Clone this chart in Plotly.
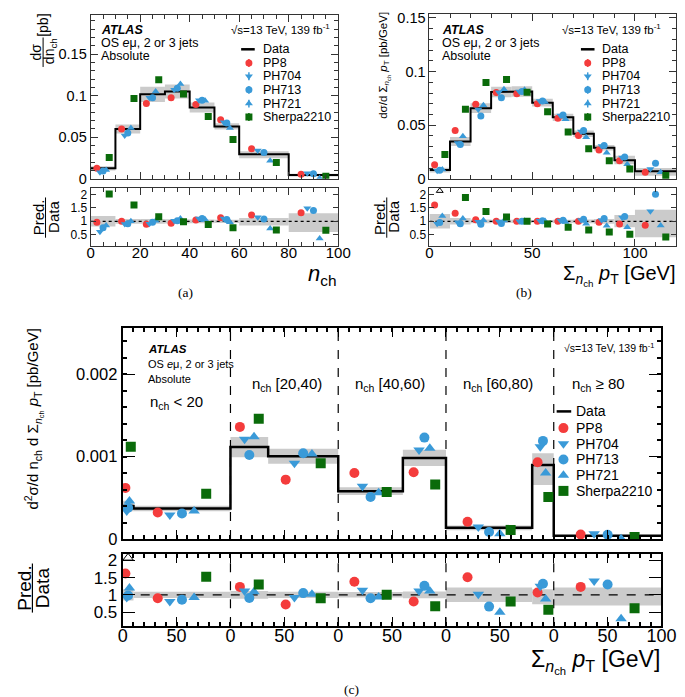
import plotly.graph_objects as go

W, H = 685, 697

# ---------------- panel (a): n_ch ----------------
a_edges = [0, 10, 20, 30, 40, 50, 60, 80, 100]
a_data = [0.0126, 0.0600, 0.1016, 0.1050, 0.0858, 0.0630, 0.0295, 0.0047]
a_unc_up = [0.20, 0.09, 0.09, 0.08, 0.07, 0.06, 0.12, 0.30]
a_unc_dn = [0.20, 0.09, 0.09, 0.08, 0.07, 0.06, 0.16, 0.40]
a_pp8 = [0.0126, 0.0598, 0.0906, 0.0976, 0.0894, 0.0709, 0.0362, 0.0055]
a_ph704 = [0.0080, 0.0520, 0.0976, 0.1070, 0.0945, 0.0680, 0.0340, 0.0067]
a_ph713 = [0.0094, 0.0550, 0.0976, 0.1090, 0.0945, 0.0670, 0.0315, 0.0060]
a_ph721 = [0.0106, 0.0610, 0.1050, 0.1140, 0.0940, 0.0610, 0.0217, 0.0008]
a_sherpa = [0.0256, 0.0965, 0.1190, 0.1020, 0.0748, 0.0472, 0.0197, 0.0030]
a_r_pp8 = [0.96, 1.00, 0.89, 0.93, 1.05, 1.13, 1.24, 1.32]
a_r_ph704 = [0.61, 0.90, 0.91, 1.02, 1.10, 1.10, 1.15, 1.49]
a_r_ph713 = [0.76, 0.91, 0.96, 1.02, 1.10, 1.07, 1.09, 1.40]
a_r_ph721 = [0.84, 1.00, 1.02, 1.10, 1.07, 0.96, 0.73, 0.35]
a_r_sherpa = [2.02, 1.61, 1.17, 0.98, 0.88, 0.76, 0.67, 0.66]

# ---------------- panel (b): sum pT ----------------
b_edges = [0, 10, 20, 30, 40, 50, 60, 70, 80, 90, 100, 120]
b_data = [0.0082, 0.0348, 0.0659, 0.0810, 0.0814, 0.0710, 0.0573, 0.0420, 0.0290, 0.0174, 0.0070]
b_unc_up = [0.27, 0.12, 0.07, 0.06, 0.06, 0.05, 0.06, 0.07, 0.09, 0.24, 0.43]
b_unc_dn = [0.27, 0.12, 0.07, 0.06, 0.06, 0.05, 0.06, 0.07, 0.09, 0.22, 0.60]
b_pp8 = [0.0131, 0.0451, 0.0695, 0.0805, 0.0793, 0.0701, 0.0564, 0.0405, 0.0268, 0.0168, 0.0061]
b_ph704 = [0.0076, 0.0335, 0.0646, 0.0808, 0.0814, 0.0726, 0.0590, 0.0442, 0.0305, 0.0198, 0.0091]
b_ph713 = [0.0079, 0.0320, 0.0585, 0.0756, 0.0814, 0.0726, 0.0595, 0.0451, 0.0310, 0.0204, 0.0146]
b_ph721 = [0.0088, 0.0396, 0.0686, 0.0835, 0.0830, 0.0716, 0.0555, 0.0387, 0.0244, 0.0137, 0.0061]
b_sherpa = [0.0226, 0.0649, 0.0899, 0.0927, 0.0808, 0.0625, 0.0436, 0.0280, 0.0168, 0.0091, 0.0030]
b_r_pp8 = [1.61, 1.30, 1.06, 1.00, 1.00, 1.00, 1.00, 1.00, 0.96, 0.90, 0.85]
b_r_ph704 = [0.91, 0.96, 0.98, 0.99, 1.00, 1.02, 1.03, 1.05, 1.05, 1.14, 1.38]
b_r_ph713 = [0.95, 0.91, 0.89, 0.92, 1.00, 1.02, 1.04, 1.08, 1.10, 1.18, 2.01]
b_r_ph721 = [1.20, 1.10, 1.04, 1.03, 1.02, 1.01, 0.97, 0.91, 0.83, 0.78, 0.84]
b_r_sherpa = [None, 1.89, 1.37, 1.16, 1.00, 0.90, 0.78, 0.67, 0.60, 0.51, 0.41]

# ---------------- panel (c): n_ch x sum pT (5 n_ch slices of 0-100 GeV) ----------------
c_slice_labels = ["n<sub>ch</sub> &lt; 20", "n<sub>ch</sub> [20,40)", "n<sub>ch</sub> [40,60)",
                  "n<sub>ch</sub> [60,80)", "n<sub>ch</sub> ≥ 80"]
c_slice_width = 100
c_edges = [0, 10, 100, 135, 200, 260, 300, 380, 400, 500]
c_data = [0.00040, 0.00037, 0.001115, 0.001004, 0.00058, 0.000984, 0.000135, 0.000897, 0.00004]
c_unc_up = [0.16, 0.09, 0.11, 0.09, 0.08, 0.10, 0.21, 0.16, 0.21]
c_unc_dn = [0.16, 0.09, 0.11, 0.09, 0.08, 0.10, 0.21, 0.27, 0.31]
c_pp8 = [0.00062, 0.000321, 0.00136, 0.00072, 0.00080, 0.00081, 0.00021, 0.00093, 0.000054]
c_ph704 = [0.00034, 0.00029, 0.00121, 0.00092, 0.00064, 0.00108, 0.000145, 0.00112, 0.000063]
c_ph713 = [0.00038, 0.00031, 0.00102, 0.00104, 0.00051, 0.00123, 0.000085, 0.00119, 0.000051]
c_ph721 = [0.00046, 0.00034, 0.00124, 0.00103, 0.00056, 0.00110, 0.000063, 0.00080, 0.000004]
c_sherpa = [0.00112, 0.00055, 0.00146, 0.00092, 0.00057, 0.00066, 0.00011, 0.00051, 0.000024]
c_r_pp8 = [1.62, 0.90, 1.23, 0.72, 1.38, 0.81, 1.51, 1.07, 1.23]
c_r_ph704 = [0.92, 0.81, 1.11, 0.92, 1.13, 1.11, 1.02, 1.25, 1.40]
c_r_ph713 = [0.98, 0.86, 0.91, 1.05, 0.90, 1.26, 0.66, 1.32, 1.30]
c_r_ph721 = [1.20, 0.92, 1.09, 1.02, 0.94, 1.11, 0.50, 0.88, 0.31]
c_r_sherpa = [None, 1.52, 1.30, 0.90, 1.00, 0.67, 0.81, 0.57, 0.61]
c_tick_vals = [0, 50, 100, 150, 200, 250, 300, 350, 400, 450, 500]
c_tick_text = ["0", "50", "0", "50", "0", "50", "0", "50", "0", "50", "100"]

# ---------------- styles ----------------
FONT = "Liberation Sans"
SERIF = "Liberation Serif"
BAND = "#cbcbcb"
NAMES = ["PP8", "PH704", "PH713", "PH721", "Sherpa2210"]
COLORS = ["#f43c3c", "#3a9ad8", "#3a9ad8", "#3a9ad8", "#0a6b0a"]
SYMBOLS = ["circle", "triangle-down", "circle", "triangle-up", "square"]
OFFSETS = [0.25, 0.375, 0.5, 0.625, 0.75]

# plot boxes in pixels: (left, right, top, bottom)
BOX = {
    "a_main": (80, 335, 3, 170), "a_rat": (80, 335, 179, 238),
    "b_main": (429, 683, 2, 170), "b_rat": (429, 683, 179, 238),
    "c_main": (113, 668, 322, 537), "c_rat": (113, 668, 552, 626),
}


def px(x):
    return x / W


def py(y):
    return 1 - y / H


def dx(b):
    return [b[0] / W, b[1] / W]


def dy(b):
    return [1 - b[3] / H, 1 - b[2] / H]


fig = go.Figure()


def add_panel(edges, data, up, dn, preds, ratios, xm, ym, xr, yr, msize, lw, rline_dash, rrange):
    n = len(data)
    centers = [(edges[i] + edges[i + 1]) / 2 for i in range(n)]
    widths = [edges[i + 1] - edges[i] for i in range(n)]
    fig.add_trace(go.Bar(x=centers, y=[data[i] * (up[i] + dn[i]) for i in range(n)],
                         base=[data[i] * (1 - dn[i]) for i in range(n)], width=widths,
                         marker=dict(color=BAND, line=dict(width=0)), xaxis=xm, yaxis=ym,
                         showlegend=False, hoverinfo="skip"))
    fig.add_trace(go.Bar(x=centers, y=[up[i] + dn[i] for i in range(n)],
                         base=[1 - dn[i] for i in range(n)], width=widths,
                         marker=dict(color=BAND, line=dict(width=0)), xaxis=xr, yaxis=yr,
                         showlegend=False, hoverinfo="skip"))
    fig.add_trace(go.Scatter(x=[edges[0], edges[-1]], y=[1, 1], mode="lines",
                             line=dict(color="black", width=1.3, dash=rline_dash),
                             xaxis=xr, yaxis=yr, showlegend=False, hoverinfo="skip"))
    xs, ys = [], []
    for i in range(n):
        xs += [edges[i], edges[i + 1]]
        ys += [data[i], data[i]]
    fig.add_trace(go.Scatter(x=xs, y=ys, mode="lines", line=dict(color="black", width=lw),
                             xaxis=xm, yaxis=ym, showlegend=False))
    for g in range(5):
        xpos = [edges[i] + OFFSETS[g] * widths[i] for i in range(n)]
        fig.add_trace(go.Scatter(x=xpos, y=preds[g], mode="markers",
                                 marker=dict(symbol=SYMBOLS[g], color=COLORS[g], size=msize, line=dict(width=0)),
                                 xaxis=xm, yaxis=ym, showlegend=False, name=NAMES[g]))
        rx = [xpos[i] for i in range(n) if ratios[g][i] is not None]
        ry = [ratios[g][i] for i in range(n) if ratios[g][i] is not None]
        fig.add_trace(go.Scatter(x=rx, y=ry, mode="markers",
                                 marker=dict(symbol=SYMBOLS[g], color=COLORS[g], size=msize, line=dict(width=0)),
                                 xaxis=xr, yaxis=yr, showlegend=False, name=NAMES[g]))
        ox = [centers[i] for i in range(n) if ratios[g][i] is None]
        if ox:
            fig.add_trace(go.Scatter(x=ox, y=[rrange[1] - 0.12] * len(ox), mode="markers",
                                     marker=dict(symbol="triangle-up-open", color="black", size=msize - 1,
                                                 line=dict(width=1)),
                                     xaxis=xr, yaxis=yr, showlegend=False))


A_RR = [0.09, 2.26]
B_RR = [0.09, 2.26]
C_RR = [0.09, 2.19]

add_panel(a_edges, a_data, a_unc_up, a_unc_dn,
          [a_pp8, a_ph704, a_ph713, a_ph721, a_sherpa],
          [a_r_pp8, a_r_ph704, a_r_ph713, a_r_ph721, a_r_sherpa],
          "x", "y", "x2", "y2", 7, 2, "dot", A_RR)
add_panel(b_edges, b_data, b_unc_up, b_unc_dn,
          [b_pp8, b_ph704, b_ph713, b_ph721, b_sherpa],
          [b_r_pp8, b_r_ph704, b_r_ph713, b_r_ph721, b_r_sherpa],
          "x3", "y3", "x4", "y4", 7, 2, "dot", B_RR)

C_YMAX = 0.00256
for k in range(1, len(c_slice_labels)):
    xb = k * c_slice_width
    fig.add_trace(go.Scatter(x=[xb, xb], y=[0, C_YMAX], mode="lines",
                             line=dict(color="black", width=1.2, dash="dash"),
                             xaxis="x5", yaxis="y5", showlegend=False, hoverinfo="skip"))
    fig.add_trace(go.Scatter(x=[xb, xb], y=C_RR, mode="lines",
                             line=dict(color="black", width=1.2, dash="dash"),
                             xaxis="x6", yaxis="y6", showlegend=False, hoverinfo="skip"))

add_panel(c_edges, c_data, c_unc_up, c_unc_dn,
          [c_pp8, c_ph704, c_ph713, c_ph721, c_sherpa],
          [c_r_pp8, c_r_ph704, c_r_ph713, c_r_ph721, c_r_sherpa],
          "x5", "y5", "x6", "y6", 10, 2.5, "dash", C_RR)

# ---------------- legends (drawn on a pixel overlay axis) ----------------
LEG = {
    "a": dict(line=(235, 249), mx=243, tx=255, rows=[38, 52, 65.5, 79.3, 93.3, 107], size=12.5, ms=7, eb=4),
    "b": dict(line=(585, 599), mx=592, tx=605, rows=[38, 52, 65.5, 79.3, 93.3, 107], size=12.5, ms=7, eb=4),
    "c": dict(line=(560, 575), mx=567, tx=578, rows=[407, 424, 440, 456, 472, 488], size=14, ms=10, eb=0),
}
annotations = []
for key, L in LEG.items():
    fig.add_trace(go.Scatter(x=list(L["line"]), y=[L["rows"][0]] * 2, mode="lines",
                             line=dict(color="black", width=2.5), xaxis="x7", yaxis="y7",
                             showlegend=False, hoverinfo="skip"))
    annotations.append(dict(text="Data", x=px(L["tx"]), y=py(L["rows"][0]), xref="paper", yref="paper",
                            xanchor="left", yanchor="middle", showarrow=False,
                            font=dict(family=FONT, size=L["size"], color="black")))
    for g in range(5):
        yy = L["rows"][g + 1]
        kw = {}
        if L["eb"]:
            kw["error_y"] = dict(type="constant", value=L["eb"], color=COLORS[g], thickness=1.5, width=0)
        fig.add_trace(go.Scatter(x=[L["mx"]], y=[yy], mode="markers",
                                 marker=dict(symbol=SYMBOLS[g], color=COLORS[g], size=L["ms"], line=dict(width=0)),
                                 xaxis="x7", yaxis="y7", showlegend=False, hoverinfo="skip", **kw))
        annotations.append(dict(text=NAMES[g], x=px(L["tx"]), y=py(yy), xref="paper", yref="paper",
                                xanchor="left", yanchor="middle", showarrow=False,
                                font=dict(family=FONT, size=L["size"], color="black")))


def ann(text, x, y, size, xanchor="left", angle=0, family=FONT):
    annotations.append(dict(text=text, x=px(x), y=py(y), xref="paper", yref="paper",
                            xanchor=xanchor, yanchor="middle", showarrow=False, textangle=angle,
                            font=dict(family=family, size=size, color="black")))


SQRT = "√s=13 TeV, 139 fb<sup>-1</sup>"
OS = "OS <i>e</i>μ, 2 or 3 jets"
SUMPT = "Σ<sub><i>n</i><sub>ch</sub></sub> <i>p</i><sub>T</sub>"

# (a) texts
ann("<b><i>ATLAS</i></b>", 89, 18, 12.5)
ann(OS, 89, 32, 12.5)
ann("Absolute", 89, 45, 12.5)
ann(SQRT, 329, 17, 11.5, "right")
ann("<i>n</i><sub>ch</sub>", 336, 268, 22, "right")
ann("(a)", 178, 286, 13.5, "center", family=SERIF)
ann("dσ", 24, 41, 14, "center", -90)
ann("dn<sub>ch</sub>", 38, 40, 14, "center", -90)
ann("[pb]", 31, 14, 14, "center", -90)
ann("Pred.", 26, 209, 15, "center", -90)
ann("Data", 41, 209, 15, "center", -90)

# (b) texts
ann("<b><i>ATLAS</i></b>", 440, 18, 12.5)
ann(OS, 440, 32, 12.5)
ann("Absolute", 440, 45, 12.5)
ann(SQRT, 670, 17, 11.5, "right")
ann(SUMPT + " [GeV]", 684, 268, 20, "right")
ann("(b)", 526, 286, 13.5, "center", family=SERIF)
ann("dσ/d " + SUMPT + " [pb/GeV]", 383, 54, 11.5, "center", -90)
ann("Pred.", 377, 209, 15, "center", -90)
ann("Data", 392, 209, 15, "center", -90)

# (c) texts
ann("<b><i>ATLAS</i></b>", 137, 343, 11.5)
ann(OS, 137, 359, 11)
ann("Absolute", 137, 374, 11)
ann(SQRT, 662, 342, 10.5, "right")
slice_y = [398, 380, 380, 380, 380]
slice_x = [168, 282, 388, 500, 603]
for k, lab in enumerate(c_slice_labels):
    ann(lab, slice_x[k], slice_y[k], 15, "center")
ann(SUMPT + " [GeV]", 669, 662, 23, "right")
ann("(c)", 349, 690, 13.5, "center", family=SERIF)
ann("d<sup>2</sup>σ/d n<sub>ch</sub> d " + SUMPT + " [pb/GeV]", 22, 415, 15, "center", -90)
ann("Pred.", 11, 587, 19, "center", -90)
ann("Data", 30, 587, 19, "center", -90)

shapes = [
    dict(type="line", xref="paper", yref="paper", x0=px(31), x1=px(31), y0=py(26), y1=py(56),
         line=dict(color="black", width=1)),
    dict(type="line", xref="paper", yref="paper", x0=px(33.5), x1=px(33.5), y0=py(189), y1=py(230),
         line=dict(color="black", width=1)),
    dict(type="line", xref="paper", yref="paper", x0=px(385), x1=px(385), y0=py(189), y1=py(230),
         line=dict(color="black", width=1)),
    dict(type="line", xref="paper", yref="paper", x0=px(20), x1=px(20), y0=py(562), y1=py(612),
         line=dict(color="black", width=1.2)),
]


def axis(box_dom, rng, anchor, color, lw, fsize, **kw):
    d = dict(domain=box_dom, range=rng, anchor=anchor, showline=True, linecolor=color, linewidth=lw,
             mirror="allticks", ticks="inside", tickcolor=color, tickwidth=max(1, lw * 0.7), ticklen=7,
             showgrid=False, zeroline=False, fixedrange=True,
             tickfont=dict(family=FONT, size=fsize, color="black"))
    d.update(kw)
    return d


def minor(dt, color, lw=1):
    return dict(tickmode="linear", tick0=0, dtick=dt, ticks="inside", ticklen=4, tickcolor=color,
                tickwidth=lw, showgrid=False)


AC = "#333333"
layout = dict(
    width=W, height=H, margin=dict(l=0, r=0, t=0, b=0),
    paper_bgcolor="white", plot_bgcolor="rgba(0,0,0,0)", showlegend=False,
    font=dict(family=FONT, color="black"),
    xaxis=axis(dx(BOX["a_main"]), [0, 100], "y", AC, 1, 14.5, tickmode="linear", tick0=0, dtick=20,
               showticklabels=False, minor=minor(5, AC)),
    yaxis=axis(dy(BOX["a_main"]), [0, 0.197], "x", AC, 1, 14.5, tickvals=[0, 0.05, 0.1, 0.15],
               minor=minor(0.01, AC)),
    xaxis2=axis(dx(BOX["a_rat"]), [0, 100], "y2", AC, 1, 15, tickmode="linear", tick0=0, dtick=20,
                minor=minor(5, AC), ticklabelstandoff=-7),
    yaxis2=axis(dy(BOX["a_rat"]), A_RR, "x2", AC, 1, 12, tickvals=[0.5, 1, 1.5, 2], ticklen=5),
    xaxis3=axis(dx(BOX["b_main"]), [0, 120], "y3", AC, 1, 14.5, tickmode="linear", tick0=0, dtick=50,
                showticklabels=False, minor=minor(10, AC)),
    yaxis3=axis(dy(BOX["b_main"]), [0, 0.1537], "x3", AC, 1, 14.5, tickvals=[0, 0.05, 0.1, 0.15],
                minor=minor(0.01, AC)),
    xaxis4=axis(dx(BOX["b_rat"]), [0, 120], "y4", AC, 1, 15, tickmode="linear", tick0=0, dtick=50,
                minor=minor(10, AC), ticklabelstandoff=-7),
    yaxis4=axis(dy(BOX["b_rat"]), B_RR, "x4", AC, 1, 12, tickvals=[0.5, 1, 1.5, 2], ticklen=5),
    xaxis5=axis(dx(BOX["c_main"]), [0, 500], "y5", "black", 2, 17, tickvals=c_tick_vals,
                showticklabels=False, ticklen=9, minor=minor(10, "black", 1.5)),
    yaxis5=axis(dy(BOX["c_main"]), [0, C_YMAX], "x5", "black", 2, 16.5, tickvals=[0, 0.001, 0.002],
                ticktext=["0", "0.001", "0.002"], ticklen=12, minor=minor(0.0002, "black", 1.5)),
    xaxis6=axis(dx(BOX["c_rat"]), [0, 500], "y6", "black", 2, 18, tickvals=c_tick_vals, ticktext=c_tick_text,
                ticklen=9, minor=minor(10, "black", 1.5), ticklabelstandoff=-8),
    yaxis6=axis(dy(BOX["c_rat"]), C_RR, "x6", "black", 2, 17, tickvals=[0.5, 1, 1.5, 2], ticklen=12),
    xaxis7=dict(domain=[0, 1], range=[0, W], anchor="y7", visible=False, fixedrange=True),
    yaxis7=dict(domain=[0, 1], range=[H, 0], anchor="x7", visible=False, fixedrange=True),
    annotations=annotations, shapes=shapes, barmode="overlay",
)
fig.update_layout(**layout)
fig.write_html("out.html")
